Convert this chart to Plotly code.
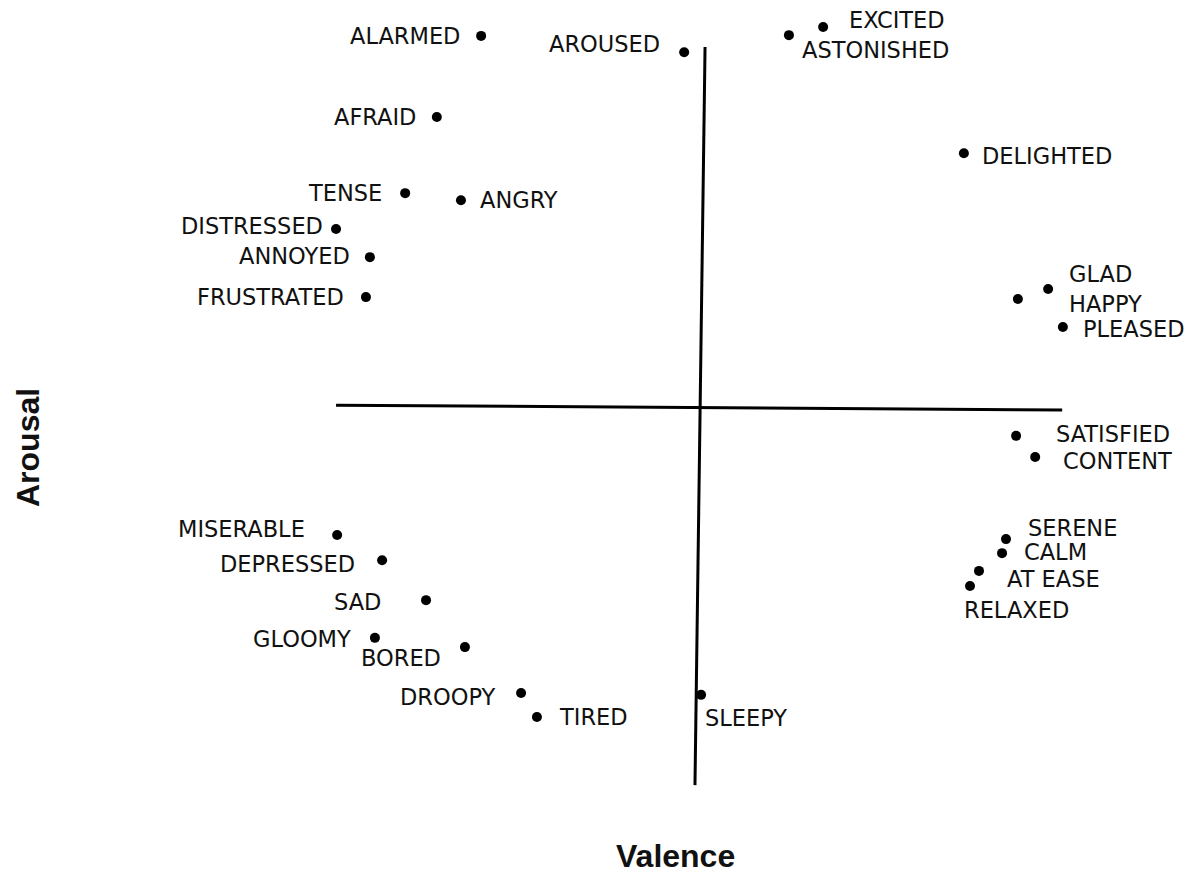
import plotly.graph_objects as go

# Russell circumplex: valence (x) and arousal (y)
words = ["ALARMED", "AROUSED", "EXCITED", "ASTONISHED", "AFRAID", "DELIGHTED",
         "TENSE", "ANGRY", "DISTRESSED", "ANNOYED", "FRUSTRATED", "GLAD", "HAPPY",
         "PLEASED", "SATISFIED", "CONTENT", "SERENE", "CALM", "AT EASE", "RELAXED",
         "SLEEPY", "MISERABLE", "DEPRESSED", "SAD", "GLOOMY", "BORED", "DROOPY", "TIRED"]
valence = [-0.608, -0.044, 0.342, 0.247, -0.731, 0.733,
           -0.819, -0.664, -1.011, -0.917, -0.928, 0.967, 0.883,
           1.008, 0.878, 0.931, 0.850, 0.839, 0.775, 0.750,
           0.003, -1.008, -0.883, -0.761, -0.903, -0.653, -0.497, -0.453]
arousal = [1.003, 0.959, 1.027, 1.005, 0.784, 0.686,
           0.578, 0.559, 0.481, 0.405, 0.297, 0.319, 0.292,
           0.216, -0.078, -0.135, -0.357, -0.395, -0.443, -0.484,
           -0.778, -0.346, -0.414, -0.522, -0.624, -0.649, -0.773, -0.838]

# label placement: (anchor, xshift px, yshift px)
place = {
  "ALARMED": ("right", -19, 0), "AROUSED": ("right", -22, 8),
  "EXCITED": ("left", 24, 7), "ASTONISHED": ("left", 11, -15),
  "AFRAID": ("right", -19, 0), "DELIGHTED": ("left", 16, -3),
  "TENSE": ("right", -21, 0), "ANGRY": ("left", 17, 0),
  "DISTRESSED": ("right", -11, 3), "ANNOYED": ("right", -18, 1),
  "FRUSTRATED": ("right", -20, 0), "GLAD": ("left", 19, 15),
  "HAPPY": ("left", 49, -5), "PLEASED": ("left", 18, -2),
  "SATISFIED": ("left", 38, 2), "CONTENT": ("left", 26, -4),
  "SERENE": ("left", 20, 11), "CALM": ("left", 20, 1),
  "AT EASE": ("left", 26, -8), "RELAXED": ("left", -8, -24),
  "SLEEPY": ("left", 2, -23), "MISERABLE": ("right", -30, 6),
  "DEPRESSED": ("right", -25, -4), "SAD": ("right", -43, -2),
  "GLOOMY": ("right", -22, -1), "BORED": ("right", -22, -11),
  "DROOPY": ("right", -24, -4), "TIRED": ("left", 20, 0),
}

label_font = dict(family="DejaVu Sans", size=22.5, color="#111111")
title_font = dict(family="Liberation Sans", size=32, color="#111111")

fig = go.Figure()
fig.add_trace(go.Scatter(x=valence, y=arousal, mode="markers",
    marker=dict(size=10, color="black"), hoverinfo="text", text=words, showlegend=False))

for w, v, a in zip(words, valence, arousal):
  anchor, dx, dy = place[w]
  fig.add_annotation(x=v, y=a, text=w, showarrow=False, xanchor=anchor, yanchor="middle",
      xshift=dx, yshift=dy, font=label_font)

# the two axis strokes of the drawing
fig.add_shape(type="line", x0=-1.011, y0=0.005, x1=1.006, y1=-0.008, line=dict(color="black", width=3))
fig.add_shape(type="line", x0=0.014, y0=0.973, x1=-0.014, y1=-1.022, line=dict(color="black", width=3))

fig.add_annotation(x=0, y=0.4931, xref="paper", yref="paper", text="<b>Arousal</b>", textangle=-90,
    xanchor="left", yanchor="middle", showarrow=False, font=title_font)
fig.add_annotation(x=0.5672, y=0, xref="paper", yref="paper", text="<b>Valence</b>",
    xanchor="center", yanchor="bottom", showarrow=False, font=title_font)

# page body keeps an 8px margin, so the figure is 16px smaller than the window
fig.update_layout(width=1176, height=868, margin=dict(l=0, r=0, t=0, b=0),
    plot_bgcolor="white", paper_bgcolor="white")
fig.update_xaxes(range=[-1.9222, 1.3444], visible=False)
fig.update_yaxes(range=[-1.2676, 1.0784], visible=False)

fig.write_html("out.html")
